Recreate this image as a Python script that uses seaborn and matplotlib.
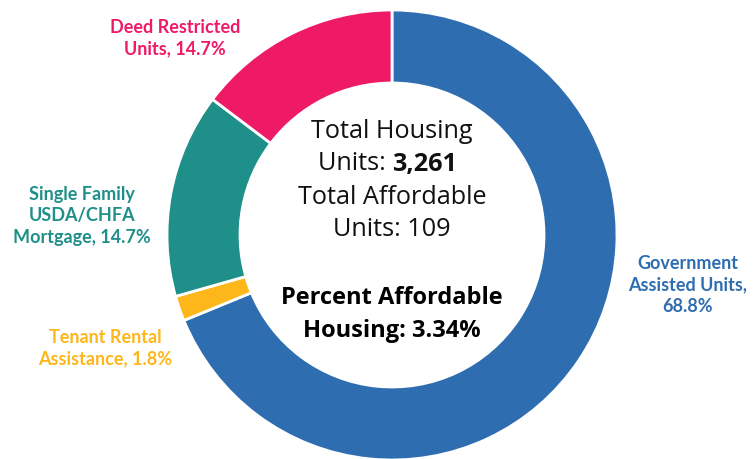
import matplotlib
matplotlib.use("Agg")
import matplotlib.pyplot as plt
import seaborn as sns

sns.set_theme(style="white")
plt.rcParams['font.family'] = ['Open Sans', 'DejaVu Sans']

categories = ["Government Assisted Units", "Tenant Rental Assistance",
              "Single Family USDA/CHFA Mortgage", "Deed Restricted Units"]
shares = [68.8, 1.8, 14.7, 14.7]
label_texts = ["Government\nAssisted Units,\n68.8%", "Tenant Rental\nAssistance, 1.8%",
               "Single Family\nUSDA/CHFA\nMortgage, 14.7%", "Deed Restricted\nUnits, 14.7%"]
colors = ["#2E6DB0", "#FDB71A", "#1F8F8A", "#EF1A66"]
total_units = "3,261"
affordable_units = "109"
pct_affordable = "3.34%"

W, H = 755, 459
fig = plt.figure(figsize=(W / 100, H / 100), dpi=100)
ax = fig.add_axes([0, 0, 1, 1])
cx, cy, R = 392, 235, 225
ax.pie(shares, colors=colors, startangle=90, counterclock=False, radius=1,
       wedgeprops=dict(width=73 / 225, edgecolor="white", linewidth=2))
ax.set_aspect("auto")
ax.set_xlim(-cx / R, (W - cx) / R)
ax.set_ylim(-(H - cy) / R, cy / R)
ax.axis("off")

def fx(px):
    return px / W

def fy(py):
    return 1 - py / H

# category labels
label_pos = [(688, 285), (105, 348), (82, 216), (175, 38)]
for txt, (px, py), col in zip(label_texts, label_pos, colors):
    fig.text(fx(px), fy(py), txt, ha="center", va="center", color=col,
             fontsize=13, fontweight="bold", linespacing=1.3,
             family=["Lato", "DejaVu Sans"])

# centre text
cfs = 18.2
fig.text(fx(392), fy(131), "Total Housing", ha="center", va="center", fontsize=cfs, color="#111111")
fig.text(fx(392), fy(164), "Units: ", ha="right", va="center", fontsize=cfs, color="#111111")
fig.text(fx(392), fy(164), total_units, ha="left", va="center", fontsize=cfs, fontweight="bold", color="#111111")
fig.text(fx(392), fy(197), "Total Affordable", ha="center", va="center", fontsize=cfs, color="#111111")
fig.text(fx(392), fy(230), "Units: " + affordable_units, ha="center", va="center", fontsize=cfs, color="#111111")
fig.text(fx(392), fy(298), "Percent Affordable", ha="center", va="center", fontsize=17, fontweight="bold", color="#000000")
fig.text(fx(392), fy(331), "Housing: " + pct_affordable, ha="center", va="center", fontsize=17, fontweight="bold", color="#000000")

fig.savefig("out.png", dpi=100)
